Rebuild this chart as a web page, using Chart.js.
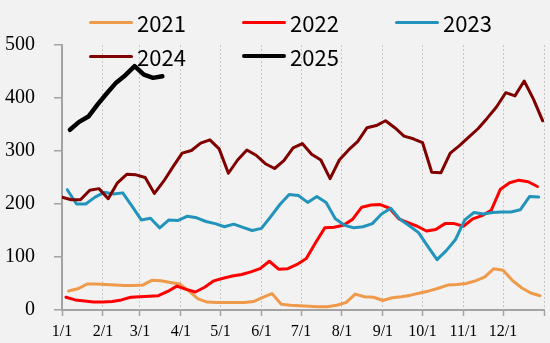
<!DOCTYPE html>
<html>
<head>
<meta charset="utf-8">
<script src="https://cdn.jsdelivr.net/npm/chart.js@4/dist/chart.umd.min.js"></script>
<style>
  html, body { margin: 0; padding: 0; background: #f2f2f2; }
  #wrap { position: relative; width: 550px; height: 343px; background: #f2f2f2; }
  #legend .item { position: absolute; display: flex; align-items: center; height: 30px; }
  #legend .swatch { width: 44px; margin-right: 4px; }
  #legend .label { font: 22px "Noto Sans CJK SC", "Noto Sans", sans-serif; color: #000; line-height: 30px; }
</style>
</head>
<body>
<div id="wrap">
  <canvas id="chart" width="550" height="343"></canvas>
  <div id="legend"></div>
</div>
<script>
// weekly series, first week's day-of-year per year
const years = ['2021', '2022', '2023', '2024', '2025']
const startDays = [5, 3, 4, 0, 6]

const values2021 = [36, 40, 49, 49, 48, 47, 46, 46, 47, 56, 55, 52, 49, 36, 21, 15, 14, 14, 14, 14,
  16, 24, 31, 11, 9, 8, 7, 6, 6, 9, 14, 30, 25, 24, 18, 23, 25, 28, 32, 36,
  41, 47, 48, 50, 55, 62, 78, 75, 56, 42, 32, 27]
const values2022 = [24, 19, 17, 15, 15, 16, 19, 24, 25, 26, 27, 35, 45, 39, 34, 43, 55, 60, 64, 67,
  72, 78, 92, 77, 78, 86, 97, 127, 155, 156, 160, 171, 194, 198, 199, 192, 172, 165, 158, 149,
  152, 163, 163, 158, 172, 178, 188, 228, 240, 245, 242, 233]
const values2023 = [227, 200, 200, 213, 222, 219, 221, 196, 170, 173, 155, 170, 169, 177, 174, 167, 163, 157, 162, 156,
  150, 154, 176, 199, 218, 216, 203, 214, 203, 172, 160, 155, 157, 163, 181, 192, 171, 159, 146, 120,
  95, 112, 133, 170, 184, 181, 184, 185, 185, 189, 214, 213]
const values2024 = [213, 208, 208, 226, 229, 210, 240, 256, 255, 250, 220, 243, 270, 296, 301, 315, 321, 304, 258, 283,
  302, 292, 276, 267, 282, 306, 314, 294, 283, 248, 283, 302, 318, 344, 348, 357, 344, 328, 323, 316,
  260, 259, 296, 310, 326, 342, 362, 383, 410, 404, 432, 398, 357]
const values2025 = [340, 355, 365, 388, 409, 429, 443, 460, 444, 438, 441]

const monthLabels = ['1/1', '2/1', '3/1', '4/1', '5/1', '6/1', '7/1', '8/1', '9/1', '10/1', '11/1', '12/1']
const monthStartDays = [0, 31, 59, 90, 120, 151, 181, 212, 243, 273, 304, 334]
const yearEndDay = 365

const seriesValues = [values2021, values2022, values2023, values2024, values2025]
const colors = ['#ee9a4a', '#ff0000', '#2294bb', '#800000', '#000000']
const widths = [3, 3, 3, 3, 4.5]

const datasets = years.map((year, i) => ({
  label: year,
  data: seriesValues[i].map((v, w) => ({ x: startDays[i] + 7 * w, y: v })),
  borderColor: colors[i],
  backgroundColor: colors[i],
  borderWidth: widths[i],
  order: years.length - i
}))

const serif = '"Liberation Serif", "DejaVu Serif", serif'
const axisGray = '#a3a3a3'

const chart = new Chart(document.getElementById('chart'), {
  type: 'line',
  data: { datasets },
  options: {
    responsive: false,
    animation: false,
    devicePixelRatio: 1,
    layout: { padding: { top: 45, right: 3, left: 0, bottom: 0 } },
    plugins: { legend: { display: false }, tooltip: { enabled: false } },
    elements: {
      point: { radius: 0 },
      line: { tension: 0, borderJoinStyle: 'round', borderCapStyle: 'round' }
    },
    scales: {
      x: {
        type: 'linear',
        min: 0,
        max: yearEndDay,
        afterBuildTicks: scale => {
          scale.ticks = monthStartDays.concat([yearEndDay]).map(v => ({ value: v }))
        },
        afterFit: scale => { scale.height = 33 },
        ticks: {
          autoSkip: false,
          maxRotation: 0,
          padding: 6,
          color: '#000',
          font: { family: serif, size: 16 },
          callback: value => {
            const i = monthStartDays.indexOf(value)
            return i >= 0 ? monthLabels[i] : ''
          }
        },
        grid: {
          color: '#c6c6c6',
          lineWidth: 1,
          tickLength: 6,
          tickColor: axisGray,
          tickWidth: 1.5,
          tickBorderDash: []
        },
        border: { display: true, color: axisGray, width: 2, dash: [2, 2] }
      },
      y: {
        min: 0,
        max: 500,
        afterFit: scale => { scale.width = 62 },
        ticks: {
          stepSize: 100,
          padding: 19,
          color: '#000',
          font: { family: serif, size: 20 }
        },
        grid: {
          drawOnChartArea: false,
          color: axisGray,
          lineWidth: 1.5,
          tickLength: 8
        },
        border: { display: true, color: axisGray, width: 2 }
      }
    }
  }
})

// legend laid over the plot, three columns
const legendLeft = 89
const legendTop = 7
const legendCol = 153
const legendRow = 34
const legend = document.getElementById('legend')
chart.data.datasets.forEach((ds, i) => {
  const item = document.createElement('div')
  item.className = 'item'
  item.style.left = (legendLeft + (i % 3) * legendCol) + 'px'
  item.style.top = (legendTop + Math.floor(i / 3) * legendRow) + 'px'
  const swatch = document.createElement('span')
  swatch.className = 'swatch'
  swatch.style.height = ds.borderWidth + 'px'
  swatch.style.background = ds.borderColor
  swatch.style.borderRadius = '2px'
  const label = document.createElement('span')
  label.className = 'label'
  label.textContent = ds.label
  item.appendChild(swatch)
  item.appendChild(label)
  legend.appendChild(item)
})
</script>
</body>
</html>
